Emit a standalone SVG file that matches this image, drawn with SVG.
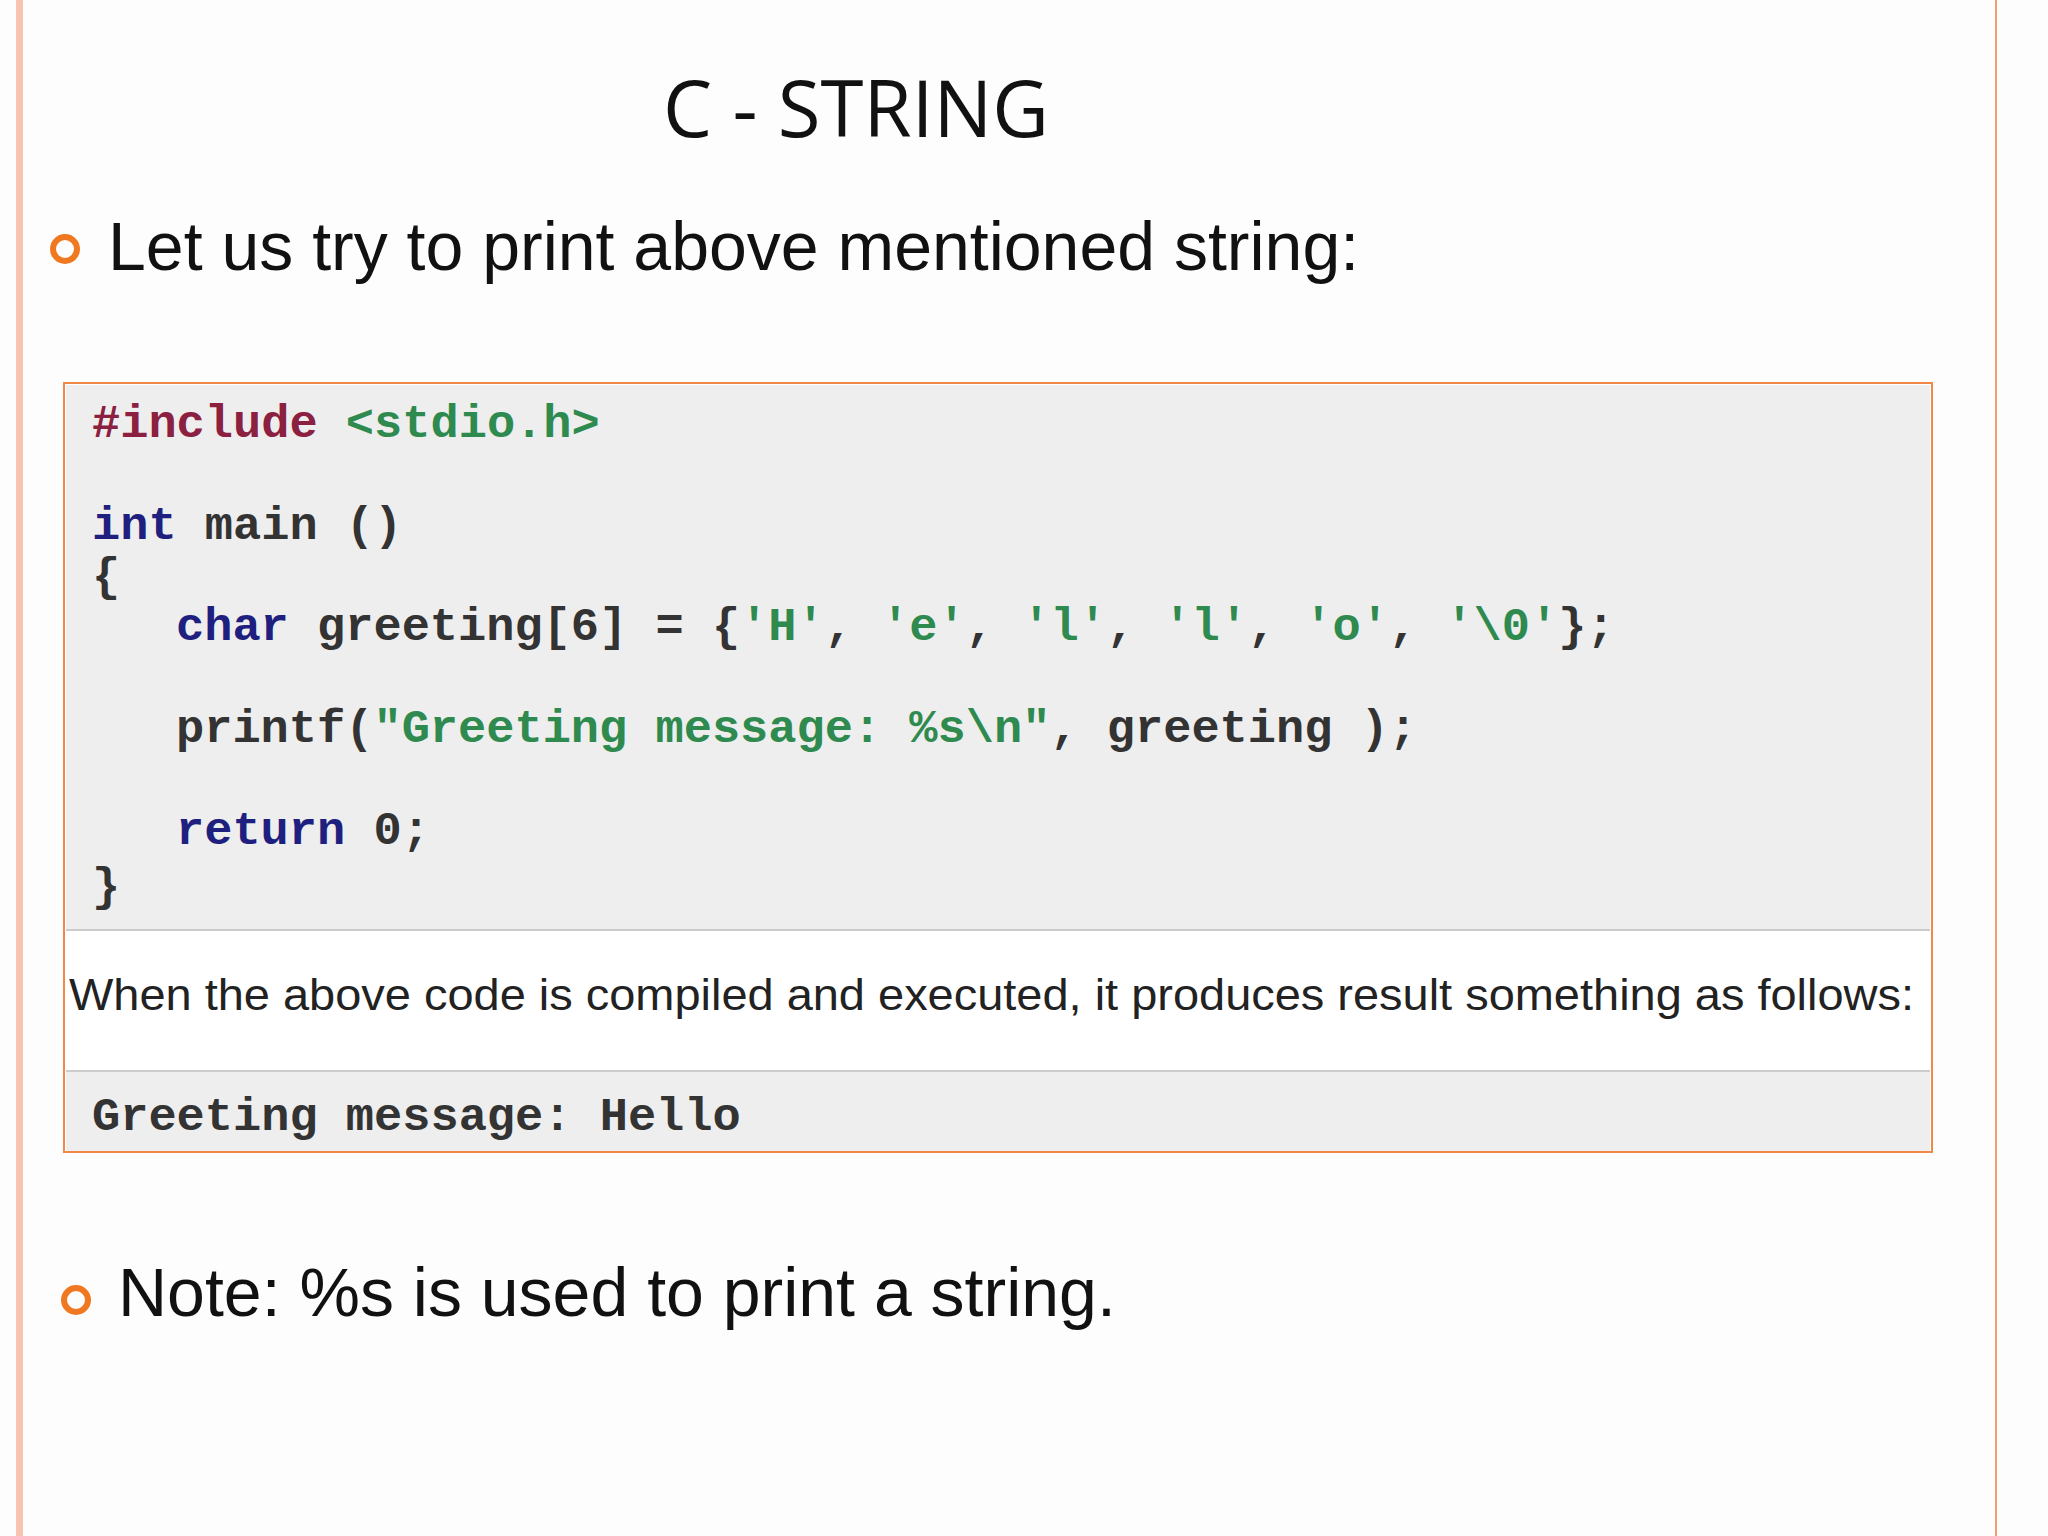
<svg xmlns="http://www.w3.org/2000/svg" width="2048" height="1536" viewBox="0 0 2048 1536">
<style>
.code{font-family:"Liberation Mono",monospace;font-size:47px;font-weight:bold;fill:#333}
.kw{fill:#1f1f80}.str{fill:#2f8a4f}.pp{fill:#8b2040}
.bul{font-family:"Liberation Sans",Arial,sans-serif;font-size:68px;fill:#111}
</style>
<rect width="2048" height="1536" fill="#fdfdfd"/>
<rect x="16" y="0" width="7" height="1536" fill="#f6c4b0"/>
<rect x="1995" y="0" width="2" height="1536" fill="#f0a070"/>
<text x="856" y="137" text-anchor="middle" font-family="'Open Sans',sans-serif" font-size="78" fill="#111">C - STRING</text>
<g id="bullet1">
<circle cx="65" cy="249" r="12" fill="none" stroke="#f07820" stroke-width="6"/>
<text class="bul" x="108" y="270">Let us try to print above mentioned string:</text>
</g>
<g id="codebox">
<rect x="64" y="383" width="1868" height="769" fill="#ffffff"/>
<rect x="66" y="385" width="1864" height="545" fill="#eeeeee"/>
<line x1="66" y1="930" x2="1930" y2="930" stroke="#cccccc" stroke-width="2"/>
<rect x="66" y="1071" width="1864" height="80" fill="#eeeeee"/>
<line x1="66" y1="1071" x2="1930" y2="1071" stroke="#cccccc" stroke-width="2"/>
<rect x="64" y="383" width="1868" height="769" fill="none" stroke="#f08848" stroke-width="2"/>
<text class="code" x="92" y="437"><tspan class="pp">#include</tspan> <tspan class="str">&lt;stdio.h&gt;</tspan></text>
<text class="code" x="92" y="539"><tspan class="kw">int</tspan> main ()</text>
<text class="code" x="92" y="590">{</text>
<text class="code" x="176" y="640"><tspan class="kw">char</tspan> greeting[6] = {<tspan class="str">'H'</tspan>, <tspan class="str">'e'</tspan>, <tspan class="str">'l'</tspan>, <tspan class="str">'l'</tspan>, <tspan class="str">'o'</tspan>, <tspan class="str">'\0'</tspan>};</text>
<text class="code" x="176" y="742">printf(<tspan class="str">"Greeting message: %s\n"</tspan>, greeting );</text>
<text class="code" x="176" y="844"><tspan class="kw">return</tspan> 0;</text>
<text class="code" x="92" y="900">}</text>
<text x="69" y="1010" font-family="'Liberation Sans',Arial,sans-serif" font-size="44" fill="#222" textLength="1845" lengthAdjust="spacingAndGlyphs">When the above code is compiled and executed, it produces result something as follows:</text>
<text class="code" x="92" y="1130">Greeting message: Hello</text>
</g>
<g id="bullet2">
<circle cx="76" cy="1300" r="12" fill="none" stroke="#f07820" stroke-width="6"/>
<text class="bul" x="118" y="1316">Note: %s is used to print a string.</text>
</g>
</svg>
